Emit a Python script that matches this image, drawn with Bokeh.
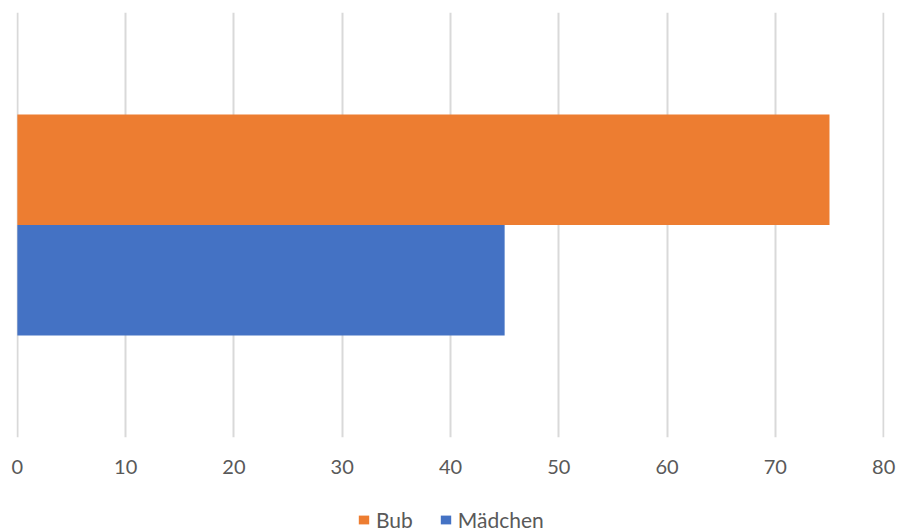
from bokeh.plotting import figure
from bokeh.layouts import column
from bokeh.models import Range1d, FixedTicker, Legend, LegendItem, ColumnDataSource
from bokeh.embed import file_html
from bokeh.resources import INLINE

series = ["Bub", "Mädchen"]
values = [75, 45]
colors = ["#ED7D31", "#4472C4"]
y_pos = [0.63, 0.37]
x_ticks = [0, 10, 20, 30, 40, 50, 60, 70, 80]

FONT = "Lato"
TXT = "#595959"

p = figure(width=901, height=480, output_backend="svg", toolbar_location=None,
           x_range=Range1d(-0.08, 80.08), y_range=Range1d(0, 1),
           min_border_left=16, min_border_right=17, min_border_top=12,
           min_border_bottom=43)
p.outline_line_color = None
p.background_fill_color = "white"
p.border_fill_color = "white"

for s, v, c, y in zip(series, values, colors, y_pos):
    src = ColumnDataSource(dict(y=[y], right=[v]))
    p.hbar(y="y", right="right", left=0, height=0.26, source=src,
           fill_color=c, line_color=None)

p.yaxis.visible = False
p.ygrid.visible = False
p.xaxis.ticker = FixedTicker(ticks=x_ticks)
p.xgrid.ticker = FixedTicker(ticks=x_ticks)
p.xgrid.grid_line_color = "#d9d9d9"
p.xgrid.grid_line_width = 2
p.xaxis.axis_line_color = None
p.xaxis.major_tick_line_color = None
p.xaxis.minor_tick_line_color = None
p.xaxis.major_label_text_font = FONT
p.xaxis.major_label_text_font_size = "20px"
p.xaxis.major_label_text_color = TXT
p.xaxis.major_label_standoff = 16

# legend strip below the chart (legend stubs hold a NaN datum, so draw nothing)
p2 = figure(width=901, height=52, output_backend="svg", toolbar_location=None,
            x_range=Range1d(0, 1), y_range=Range1d(0, 1),
            min_border_left=0, min_border_right=0, min_border_top=0,
            min_border_bottom=0)
p2.axis.visible = False
p2.grid.visible = False
p2.outline_line_color = None
nan = float("nan")
items = []
for s, c in zip(series, colors):
    r = p2.quad(left=[nan], right=[nan], top=[nan], bottom=[nan],
                fill_color=c, line_color=None)
    items.append(LegendItem(label=s, renderers=[r]))

legend = Legend(items=items, orientation="horizontal", location=(341, 0),
                label_text_font=FONT, label_text_font_size="21px",
                label_text_color=TXT, glyph_width=13, glyph_height=11,
                label_standoff=6, spacing=26, padding=0, margin=0,
                border_line_color=None, background_fill_alpha=0)
p2.add_layout(legend, "center")

layout = column(p, p2, spacing=0)
open("out.html", "w").write(file_html(layout, INLINE))
